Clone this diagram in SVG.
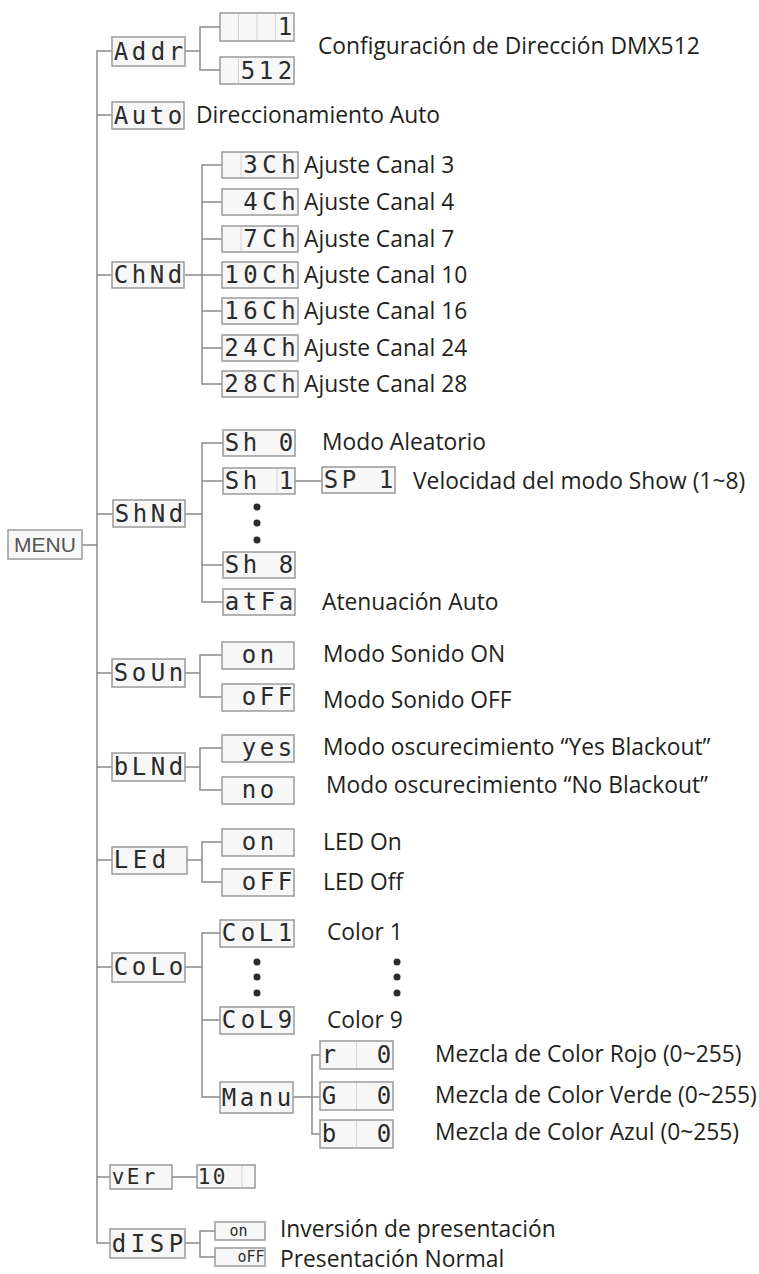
<svg xmlns="http://www.w3.org/2000/svg" width="759" height="1274" viewBox="0 0 759 1274">
<style>
.bg{fill:#ffffff}
.box{fill:#f7f7f7;stroke:#9a9a9a;stroke-width:1.5}
.div{stroke:#d4d4d4;stroke-width:1}
.lcd{font-family:"DejaVu Sans Mono",monospace;font-size:24px;fill:#2b2b2b;text-anchor:middle}
.lcds{font-family:"DejaVu Sans Mono",monospace;font-size:15px;fill:#2b2b2b;text-anchor:middle}
.lbl{font-family:"Open Sans","Liberation Sans",sans-serif;font-size:22.8px;fill:#231f20}
.menu{font-family:"Liberation Sans",Arial,sans-serif;font-size:21px;fill:#555;text-anchor:middle}
.con{fill:none;stroke:#8a8a8a;stroke-width:1.5}
.dot{fill:#2b2b2b}
</style>
<rect class="bg" x="0" y="0" width="759" height="1274"/>
<g id="connectors">
<path class="con" d="M112,51 H97 V1243 H110"/>
<path class="con" d="M97,115 H112 M97,275 H112 M97,514 H113 M82,545 H97 M97,673 H112 M97,767 H112 M97,860 H112 M97,967 H112 M97,1177 H110"/>
<path class="con" d="M185,51 H200 M220,27 H200 V70 H220"/>
<path class="con" d="M185,275 H222 M222,165 H202 V384 H222 M202,202 H222 M202,239 H222 M202,311 H222 M202,348 H222"/>
<path class="con" d="M185,514 H202 M223,443 H202 V602 H223 M202,481 H223 M202,565 H223 M295,481 H322"/>
<path class="con" d="M185,673 H200 M222,655 H200 V697 H222"/>
<path class="con" d="M185,767 H200 M222,748 H200 V790 H222"/>
<path class="con" d="M187,860 H202 M222,842 H202 V882 H222"/>
<path class="con" d="M185,967 H202 M220,933 H202 V1097 H220 M202,1020 H220"/>
<path class="con" d="M293,1097 H320 M320,1055 H312 V1134 H320"/>
<path class="con" d="M172,1177 H197"/>
<path class="con" d="M185,1243 H200 M215,1231 H200 V1257 H215"/>
</g>
<g id="menu"><rect class="box" x="8" y="530" width="74" height="29"/><text class="menu" x="45" y="552">MENU</text></g>
<g id="addr"><rect class="box" x="112" y="37" width="73" height="29"/><text class="lcd" x="121 139 158 176" y="60">Addr</text></g>
<g id="addr-1"><rect class="box" x="220" y="13" width="74" height="28"/><path class="div" d="M238.5,14 V40 M257,14 V40 M275.5,14 V40"/><text class="lcd" x="285" y="35">1</text></g>
<g id="addr-512"><rect class="box" x="220" y="57" width="74" height="27"/><path class="div" d="M238.5,58 V83"/><text class="lcd" x="248 266 285" y="79">512</text></g>
<text class="lbl" x="318" y="54">Configuración de Dirección DMX512</text>
<g id="auto"><rect class="box" x="112" y="102" width="72" height="27"/><text class="lcd" x="121 139 157 175" y="124">Auto</text></g>
<text class="lbl" x="196" y="123">Direccionamiento Auto</text>
<g id="chnd"><rect class="box" x="112" y="262" width="72" height="26"/><text class="lcd" x="121 139 157 175" y="283">ChNd</text></g>
<g id="ch3"><rect class="box" x="222" y="152" width="76" height="26"/><path class="div" d="M241,153 V177"/><text class="lcd" x="250.5 269.5 288.5" y="173">3Ch</text></g>
<g id="ch4"><rect class="box" x="222" y="189" width="76" height="26"/><text class="lcd" x="250.5 269.5 288.5" y="210">4Ch</text></g>
<g id="ch7"><rect class="box" x="222" y="226" width="76" height="26"/><path class="div" d="M241,227 V251"/><text class="lcd" x="250.5 269.5 288.5" y="247">7Ch</text></g>
<g id="ch10"><rect class="box" x="222" y="262" width="76" height="26"/><text class="lcd" x="231.5 250.5 269.5 288.5" y="283">10Ch</text></g>
<g id="ch16"><rect class="box" x="222" y="298" width="76" height="26"/><text class="lcd" x="231.5 250.5 269.5 288.5" y="319">16Ch</text></g>
<g id="ch24"><rect class="box" x="222" y="335" width="76" height="26"/><text class="lcd" x="231.5 250.5 269.5 288.5" y="356">24Ch</text></g>
<g id="ch28"><rect class="box" x="222" y="371" width="76" height="26"/><text class="lcd" x="231.5 250.5 269.5 288.5" y="392">28Ch</text></g>
<text class="lbl" x="304" y="173">Ajuste Canal 3</text>
<text class="lbl" x="304" y="210">Ajuste Canal 4</text>
<text class="lbl" x="304" y="247">Ajuste Canal 7</text>
<text class="lbl" x="304" y="283">Ajuste Canal 10</text>
<text class="lbl" x="304" y="319">Ajuste Canal 16</text>
<text class="lbl" x="304" y="356">Ajuste Canal 24</text>
<text class="lbl" x="304" y="392">Ajuste Canal 28</text>
<g id="shnd"><rect class="box" x="113" y="500" width="72" height="27"/><text class="lcd" x="122 140 158 176" y="522">ShNd</text></g>
<g id="sh0"><rect class="box" x="223" y="430" width="72" height="26"/><text class="lcd" x="232 250 268 286" y="451">Sh 0</text></g>
<g id="sh1"><rect class="box" x="223" y="468" width="72" height="26"/><path class="div" d="M277,469 V493"/><text class="lcd" x="232 250 268 286" y="489">Sh 1</text></g>
<circle class="dot" cx="257" cy="507" r="3.5"/><circle class="dot" cx="257" cy="523" r="3.5"/><circle class="dot" cx="257" cy="540" r="3.5"/>
<g id="sh8"><rect class="box" x="223" y="552" width="72" height="26"/><text class="lcd" x="232 250 268 286" y="573">Sh 8</text></g>
<g id="atfa"><rect class="box" x="223" y="589" width="72" height="26"/><text class="lcd" x="232 250 268 286" y="610">atFa</text></g>
<g id="sp1"><rect class="box" x="322" y="467" width="73" height="26"/><text class="lcd" x="331 349 367 386" y="488">SP 1</text></g>
<text class="lbl" x="322" y="450">Modo Aleatorio</text>
<text class="lbl" x="413" y="489">Velocidad del modo Show (1~8)</text>
<text class="lbl" x="322" y="610">Atenuación Auto</text>
<g id="soun"><rect class="box" x="112" y="659" width="73" height="28"/><text class="lcd" x="121 139 158 176" y="681">SoUn</text></g>
<g id="soun-on"><rect class="box" x="222" y="642" width="72" height="27"/><text class="lcd" x="249 267" y="663">on</text></g>
<g id="soun-off"><rect class="box" x="222" y="684" width="72" height="27"/><text class="lcd" x="249 267 285" y="705">oFF</text></g>
<text class="lbl" x="323" y="662">Modo Sonido ON</text>
<text class="lbl" x="323" y="708">Modo Sonido OFF</text>
<g id="blnd"><rect class="box" x="112" y="753" width="73" height="28"/><text class="lcd" x="121 139 158 176" y="775">bLNd</text></g>
<g id="blnd-yes"><rect class="box" x="222" y="735" width="72" height="27"/><text class="lcd" x="249 267 285" y="756">yes</text></g>
<g id="blnd-no"><rect class="box" x="222" y="777" width="72" height="27"/><text class="lcd" x="249 267" y="798">no</text></g>
<text class="lbl" x="323" y="755">Modo oscurecimiento “Yes Blackout”</text>
<text class="lbl" x="326" y="793">Modo oscurecimiento “No Blackout”</text>
<g id="led"><rect class="box" x="112" y="847" width="75" height="27"/><text class="lcd" x="121 140 159" y="868">LEd</text></g>
<g id="led-on"><rect class="box" x="222" y="829" width="72" height="27"/><text class="lcd" x="249 267" y="850">on</text></g>
<g id="led-off"><rect class="box" x="222" y="869" width="72" height="27"/><text class="lcd" x="249 267 285" y="890">oFF</text></g>
<text class="lbl" x="323" y="850">LED On</text>
<text class="lbl" x="323" y="890">LED Off</text>
<g id="colo"><rect class="box" x="112" y="953" width="73" height="29"/><text class="lcd" x="121 139 158 176" y="975">CoLo</text></g>
<g id="col1"><rect class="box" x="220" y="920" width="74" height="27"/><text class="lcd" x="229 248 266 285" y="941">CoL1</text></g>
<circle class="dot" cx="257" cy="962" r="3.5"/><circle class="dot" cx="257" cy="977" r="3.5"/><circle class="dot" cx="257" cy="993" r="3.5"/>
<g id="col9"><rect class="box" x="220" y="1007" width="74" height="27"/><text class="lcd" x="229 248 266 285" y="1028">CoL9</text></g>
<text class="lbl" x="327" y="940">Color 1</text>
<circle class="dot" cx="397" cy="962" r="3.5"/><circle class="dot" cx="397" cy="977" r="3.5"/><circle class="dot" cx="397" cy="993" r="3.5"/>
<text class="lbl" x="327" y="1028">Color 9</text>
<g id="manu"><rect class="box" x="220" y="1082" width="73" height="31"/><text class="lcd" x="229 247 266 284" y="1106">Manu</text></g>
<g id="red"><rect class="box" x="320" y="1041" width="73" height="28"/><path class="div" d="M356.5,1042 V1068"/><text class="lcd" x="329 347 384" y="1063">r 0</text></g>
<g id="green"><rect class="box" x="320" y="1082" width="73" height="28"/><path class="div" d="M356.5,1083 V1109"/><text class="lcd" x="329 347 384" y="1104">G 0</text></g>
<g id="blue"><rect class="box" x="320" y="1120" width="73" height="28"/><path class="div" d="M356.5,1121 V1147"/><text class="lcd" x="329 347 384" y="1142">b 0</text></g>
<text class="lbl" x="435" y="1062">Mezcla de Color Rojo (0~255)</text>
<text class="lbl" x="435" y="1103">Mezcla de Color Verde (0~255)</text>
<text class="lbl" x="435" y="1140">Mezcla de Color Azul (0~255)</text>
<g id="ver"><rect class="box" x="110" y="1165" width="62" height="24"/><text class="lcd" style="font-size:21px" x="118 133 149" y="1184">vEr</text></g>
<g id="ver-val"><rect class="box" x="197" y="1165" width="58" height="23"/><path class="div" d="M242,1166 V1187"/><text class="lcd" style="font-size:21px" x="204 219" y="1184">10</text></g>
<g id="disp"><rect class="box" x="110" y="1229" width="75" height="29"/><text class="lcd" x="119 138 157 176" y="1252">dISP</text></g>
<g id="disp-on"><rect class="box" x="215" y="1222" width="50" height="18"/><text class="lcds" x="234 243" y="1236">on</text></g>
<g id="disp-off"><rect class="box" x="215" y="1248" width="50" height="18"/><text class="lcds" x="242 251 260" y="1262">oFF</text></g>
<text class="lbl" x="280" y="1237">Inversión de presentación</text>
<text class="lbl" x="280" y="1267">Presentación Normal</text>
</svg>
